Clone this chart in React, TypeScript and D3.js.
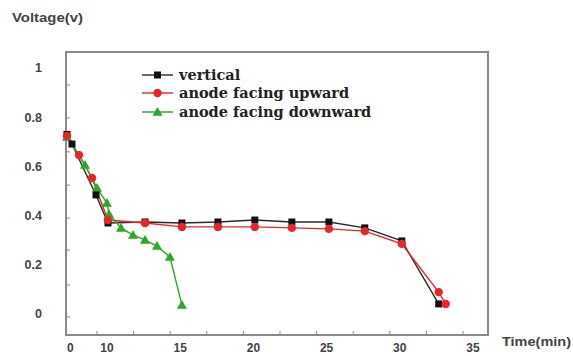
import React from "react";
import * as d3 from "d3";

const W = 573;
const H = 356;

// Data (time in axis units, voltage in V)
const verticalT = [7.95, 8.29, 9.93, 10.75, 13.28, 15.8, 18.26, 20.78, 23.31, 25.84, 28.29, 30.82, 33.34];
const verticalV = [0.73, 0.691, 0.484, 0.37, 0.374, 0.37, 0.374, 0.382, 0.374, 0.374, 0.35, 0.297, 0.041];

const upwardT = [7.95, 8.77, 9.66, 10.75, 13.28, 15.8, 18.26, 20.78, 23.31, 25.84, 28.29, 30.82, 33.34, 33.82];
const upwardV = [0.724, 0.646, 0.553, 0.382, 0.37, 0.354, 0.354, 0.354, 0.35, 0.346, 0.337, 0.285, 0.089, 0.041];

const downwardT = [7.95, 9.18, 10.0, 10.68, 10.82, 11.64, 12.46, 13.28, 14.1, 14.98, 15.8];
const downwardV = [0.72, 0.606, 0.512, 0.451, 0.407, 0.35, 0.321, 0.301, 0.276, 0.232, 0.037];

const xTickValues = [10, 12.5, 15, 17.5, 20, 22.5, 25, 27.5, 30, 32.5, 35];
const xLabelValues = [7.5, 10, 15, 20, 25, 30, 35];
const xLabels = ["0", "10", "15", "20", "25", "30", "35"];

const yLabelValues = [1, 0.8, 0.6, 0.4, 0.2, 0];
const yLabels = ["1", "0.8", "0.6", "0.4", "0.2", "0"];
const yTickValues = [-0.012, 0.118, 0.26, 0.39, 0.524, 0.659, 0.797, 0.931];

const seriesNames = ["vertical", "anode facing upward", "anode facing downward"];
const seriesColors = ["#2a2a2a", "#e8262a", "#2aa82a"];

const plotLeft = 66;
const plotRight = 488;
const plotTop = 52;
const plotBottom = 335;

const x = d3.scaleLinear().domain([10, 35]).range([97, 463]);
const y = d3.scaleLinear().domain([0, 1]).range([314, 68]);

function Marker({ kind, cx, cy, color }: { kind: number; cx: number; cy: number; color: string }) {
  if (kind === 0) {
    return <rect x={cx - 3.5} y={cy - 3.5} width={7} height={7} fill="#111" />;
  }
  if (kind === 1) {
    return <circle cx={cx} cy={cy} r={4.2} fill={color} />;
  }
  const s = 5;
  return (
    <path
      d={`M${cx},${cy - s} L${cx + s},${cy + s * 0.75} L${cx - s},${cy + s * 0.75} Z`}
      fill={color}
    />
  );
}

export default function App() {
  const series = [
    { t: verticalT, v: verticalV },
    { t: upwardT, v: upwardV },
    { t: downwardT, v: downwardV },
  ];
  const line = d3
    .line<[number, number]>()
    .x((d) => x(d[0]))
    .y((d) => y(d[1]));

  const legendY = [75, 93, 112];

  return (
    <svg
      width={W}
      height={H}
      style={{ position: "absolute", left: 0, top: 0, background: "#fff" }}
      fontFamily="'Liberation Sans', Arial, sans-serif"
    >
      {/* axis titles */}
      <text x={12} y={22} fontSize={13} fontWeight="bold" fill="#444" textLength={71} lengthAdjust="spacingAndGlyphs">
        Voltage(v)
      </text>
      <text x={502} y={346} fontSize={13} fontWeight="bold" fill="#444" textLength={69} lengthAdjust="spacingAndGlyphs">
        Time(min)
      </text>

      {/* frame */}
      <rect
        x={plotLeft}
        y={plotTop}
        width={plotRight - plotLeft}
        height={plotBottom - plotTop}
        fill="none"
        stroke="#8a8a8a"
        strokeWidth={2}
      />

      {/* y ticks */}
      {yTickValues.map((v, i) => (
        <line key={"yt" + i} x1={plotLeft} x2={plotLeft + 4} y1={y(v)} y2={y(v)} stroke="#8a8a8a" strokeWidth={1} />
      ))}
      {/* x ticks */}
      {xTickValues.map((t, i) => (
        <line key={"xt" + i} x1={x(t)} x2={x(t)} y1={plotBottom} y2={plotBottom - 4} stroke="#8a8a8a" strokeWidth={1} />
      ))}

      {/* y labels */}
      {yLabelValues.map((v, i) => (
        <text
          key={"yl" + i}
          x={42}
          y={y(v)}
          dy="0.35em"
          textAnchor="end"
          fontSize={12.5}
          fontWeight="bold"
          fill="#444"
        >
          {yLabels[i]}
        </text>
      ))}
      {/* x labels */}
      {xLabelValues.map((t, i) => (
        <text
          key={"xl" + i}
          x={x(t) + 10}
          y={352}
          textAnchor="middle"
          fontSize={12}
          fontWeight="bold"
          fill="#444"
        >
          {xLabels[i]}
        </text>
      ))}

      {/* series lines */}
      {series.map((s, si) => (
        <path
          key={"l" + si}
          d={line(s.t.map((t, j) => [t, s.v[j]] as [number, number])) || ""}
          fill="none"
          stroke={seriesColors[si]}
          strokeWidth={1.4}
        />
      ))}
      {/* markers: downward first, then vertical, then upward on top */}
      {[2, 0, 1].map((si) =>
        series[si].t.map((t, j) => (
          <Marker key={"m" + si + "-" + j} kind={si} cx={x(t)} cy={y(series[si].v[j])} color={seriesColors[si]} />
        ))
      )}

      {/* legend */}
      {seriesNames.map((name, i) => (
        <g key={"lg" + i}>
          <line x1={142} x2={173} y1={legendY[i]} y2={legendY[i]} stroke={seriesColors[i]} strokeWidth={1.4} />
          <Marker kind={i} cx={157.5} cy={legendY[i]} color={seriesColors[i]} />
          <text
            x={179}
            y={legendY[i]}
            dy="0.33em"
            fontFamily="'DejaVu Serif', serif"
            fontWeight="bold"
            fontSize={14.5}
            fill="#222"
          >
            {name}
          </text>
        </g>
      ))}
    </svg>
  );
}
